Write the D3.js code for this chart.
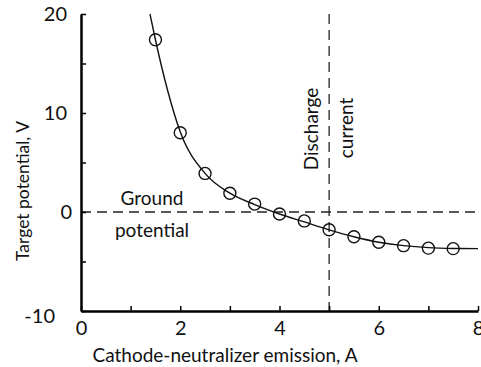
<!DOCTYPE html>
<html>
<head>
<meta charset="utf-8">
<script src="https://cdn.jsdelivr.net/npm/d3@7"></script>
<style>
  body { margin: 0; background: #fff; }
  text { font-family: Lato, "Open Sans", sans-serif; fill: #111; }
</style>
</head>
<body>
<svg id="chart"></svg>
<script>
// measured points (circles)
const emission = [1.5, 2, 2.5, 3, 3.5, 4, 4.5, 5, 5.5, 6, 6.5, 7, 7.5];
const potential = [17.4, 8.0, 3.9, 1.9, 0.8, -0.2, -0.9, -1.8, -2.5, -3.05, -3.4, -3.65, -3.7];

// fitted curve
const curveX = [1.39, 1.5, 1.75, 2, 2.5, 3, 3.5, 4, 4.5, 5, 5.5, 6, 6.5, 7, 7.5, 8];
const curveY = [20, 17.4, 12.2, 8.1, 3.9, 1.9, 0.75, -0.2, -1.0, -1.8, -2.5, -3.05, -3.4, -3.6, -3.68, -3.7];

const xTicks = [0, 1, 2, 3, 4, 5, 6, 7, 8];
const xLabels = [0, 2, 4, 6, 8];
const yTicks = [-10, -5, 0, 5, 10, 15, 20];
const yLabels = [20, 10, 0, -10];

const groundLevel = 0;
const dischargeCurrent = 5;

const width = 481, height = 367;
const svg = d3.select("#chart").attr("width", width).attr("height", height);

const mLeft = 81, mRight = 478, mTop = 14, mBottom = 311;
const x = d3.scaleLinear([0, 8], [mLeft, mRight]);
const y = d3.scaleLinear([-10, 20], [mBottom, mTop]);

const font = "Lato, 'Open Sans', sans-serif";

// reference lines
svg.append("line")
   .attr("x1", x(0)).attr("x2", x(8))
   .attr("y1", y(groundLevel)).attr("y2", y(groundLevel))
   .attr("stroke", "#222").attr("stroke-width", 1.3)
   .attr("stroke-dasharray", "10,6");
svg.append("line")
   .attr("x1", x(dischargeCurrent)).attr("x2", x(dischargeCurrent))
   .attr("y1", y(20)).attr("y2", y(-10))
   .attr("stroke", "#222").attr("stroke-width", 1.3)
   .attr("stroke-dasharray", "10,6");

// axes
const xAxis = d3.axisBottom(x).tickValues(xTicks).tickSize(-5).tickSizeOuter(0)
                .tickFormat(d => xLabels.includes(d) ? d : "");
svg.append("g")
   .attr("transform", `translate(0, ${mBottom})`)
   .call(xAxis)
   .call(g => g.select(".domain").attr("stroke-width", 2.5))
   .call(g => g.selectAll(".tick line").attr("stroke-width", 1.5))
   .call(g => g.selectAll(".tick text").attr("y", 10).attr("font-size", 20)
               .attr("font-family", font).attr("fill", "#111"));

const yAxis = d3.axisLeft(y).tickValues(yTicks).tickSize(-5).tickSizeOuter(0)
                .tickFormat(d => yLabels.includes(d) ? d : "");
svg.append("g")
   .attr("transform", `translate(${mLeft}, 0)`)
   .call(yAxis)
   .call(g => g.select(".domain").attr("stroke-width", 2.5))
   .call(g => g.selectAll(".tick line").attr("stroke-width", 1.5))
   .call(g => g.selectAll(".tick text").attr("font-size", 20)
               .attr("font-family", font).attr("fill", "#111")
               .attr("x", d => d === 0 ? -9 : d === -10 ? -26 : -14)
               .attr("dy", d => d === -10 ? "0.55em" : "0.32em"));

// curve
const line = d3.line().x(d => x(d[0])).y(d => y(d[1])).curve(d3.curveMonotoneX);
svg.append("path")
   .datum(d3.zip(curveX, curveY))
   .attr("d", line)
   .attr("fill", "none").attr("stroke", "#111").attr("stroke-width", 1.4);

// points
svg.append("g")
   .selectAll("circle")
   .data(d3.zip(emission, potential))
   .join("circle")
   .attr("cx", d => x(d[0]))
   .attr("cy", d => y(d[1]))
   .attr("r", 6)
   .attr("fill", "none").attr("stroke", "#111").attr("stroke-width", 1.4);

// annotations
svg.append("text").attr("x", 152).attr("y", 205).attr("text-anchor", "middle")
   .attr("font-size", 19).text("Ground");
svg.append("text").attr("x", 152).attr("y", 237).attr("text-anchor", "middle")
   .attr("font-size", 19).text("potential");
svg.append("text").attr("transform", `translate(318, 129) rotate(-90)`)
   .attr("text-anchor", "middle").attr("font-size", 19).text("Discharge");
svg.append("text").attr("transform", `translate(353, 128) rotate(-90)`)
   .attr("text-anchor", "middle").attr("font-size", 19).text("current");

// axis titles
svg.append("text").attr("x", 225).attr("y", 362).attr("text-anchor", "middle")
   .attr("font-size", 19).text("Cathode-neutralizer emission, A");
svg.append("text").attr("transform", `translate(29, 191) rotate(-90)`)
   .attr("text-anchor", "middle").attr("font-size", 17.5).text("Target potential, V");
</script>
</body>
</html>
